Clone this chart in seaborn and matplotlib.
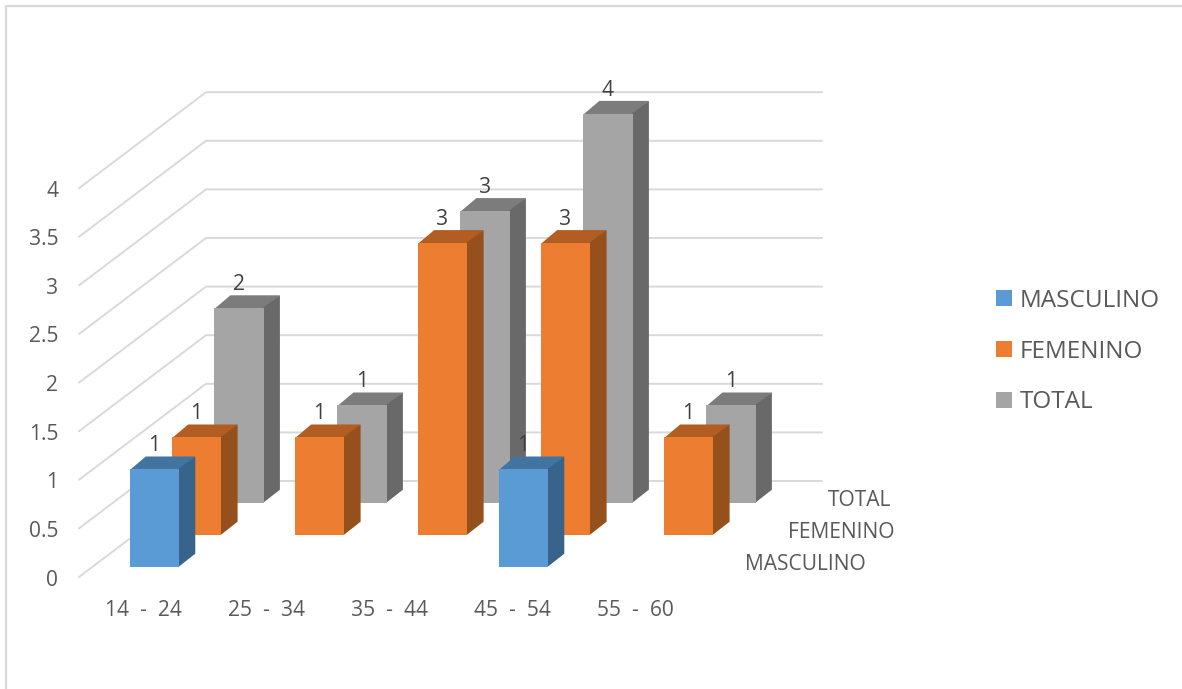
import matplotlib
matplotlib.use("Agg")
import matplotlib.pyplot as plt
from matplotlib.lines import Line2D
from matplotlib.patches import Patch, Polygon
import numpy as np
import seaborn as sns

# Survey counts per age group
age_groups = ["14  -  24", "25  -  34", "35  -  44", "45  -  54", "55  -  60"]
masculino = [1, 0, 0, 1, 0]
femenino = [1, 1, 3, 3, 1]
total = [2, 1, 3, 4, 1]
series_names = ["MASCULINO", "FEMENINO", "TOTAL"]
value_ticks = [0, 0.5, 1, 1.5, 2, 2.5, 3, 3.5, 4]
value_tick_labels = ["0", "0.5", "1", "1.5", "2", "2.5", "3", "3.5", "4"]

# Face colours per series: front, top, side
front_colors = ["#5B9BD5", "#ED7D31", "#A5A5A5"]
top_colors = ["#4174A1", "#B25D21", "#7C7C7C"]
side_colors = ["#38638B", "#95501C", "#696969"]

# Oblique projection, in pixels of the 1182x689 canvas
W, H = 1182, 689
PX_X = 123.0           # pixels per category
PX_Y = 97.2            # pixels per unit of value
ORIGIN_X, ORIGIN_Y = 154.25, 566.5
BAR_W = 49.5 / PX_X
ROW_DX, ROW_DY = 42.3 / PX_X, 32.0 / PX_Y     # shift from one series row to the next
BAR_DX, BAR_DY = 16.3 / PX_X, 12.8 / PX_Y     # depth of a bar
TUCK_X, TUCK_Y = 1.0 / PX_X, 1.0 / PX_Y       # faces run slightly under the front to avoid seams

sns.set_theme(style="white")
plt.rcParams["font.family"] = ["Open Sans", "DejaVu Sans"]
TEXT_SIZE = 15.1
LEGEND_SIZE = 17.5

fig = plt.figure(figsize=(W / 100, H / 100), dpi=100, facecolor="white")
ax = fig.add_axes([0, 0, 1, 1])


def px_x(p):
    return (p - ORIGIN_X) / PX_X


def px_y(p):
    return (ORIGIN_Y - p) / PX_Y


# Side and back walls: gridlines only
wall_left_x, wall_back_x, wall_right_x = px_x(79), px_x(206), px_x(822)
wall_left_y, wall_back_y = px_y(577), px_y(481)
for v in value_ticks:
    ax.plot([wall_left_x, wall_back_x, wall_right_x],
            [v + wall_left_y, v + wall_back_y, v + wall_back_y],
            color="#D9D9D9", lw=1.4, zorder=1, solid_joinstyle="miter")

# Rows are drawn back to front so that nearer bars hide farther ones
positions = np.arange(len(age_groups), dtype=float)
rows = [masculino, femenino, total]
for row in [2, 1, 0]:
    values = np.array(rows[row], dtype=float)
    xs = positions + row * ROW_DX
    base = row * ROW_DY
    z = 10 + (2 - row) * 2
    for x, v in zip(xs, values):
        if v == 0:
            continue
        l, r = x - BAR_W / 2, x + BAR_W / 2
        t = base + v
        ax.add_patch(Polygon([(l, t - TUCK_Y), (r, t - TUCK_Y), (r + BAR_DX, t + BAR_DY), (l + BAR_DX, t + BAR_DY)],
                             closed=True, fc=top_colors[row], ec="none", zorder=z))
        ax.add_patch(Polygon([(r - TUCK_X, base), (r, base), (r + BAR_DX, base + BAR_DY),
                              (r + BAR_DX, t + BAR_DY), (r - TUCK_X, t)],
                             closed=True, fc=side_colors[row], ec="none", zorder=z + 0.2))
        ax.text(x, t + 23.5 / PX_Y, f"{int(v)}", ha="center", va="center",
                fontsize=TEXT_SIZE, color="#404040", zorder=30)
    sns.barplot(x=xs, y=values, bottom=base, width=BAR_W, native_scale=True,
                color=front_colors[row], saturation=1, errorbar=None,
                linewidth=0, ax=ax, zorder=z + 0.5)

# Value axis labels, at the front edge of the side wall
for v, label in zip(value_ticks, value_tick_labels):
    ax.text(px_x(58.5), v + px_y(580), label, ha="right", va="center",
            fontsize=TEXT_SIZE, color="#595959")

# Category labels
for p, label in zip(positions, age_groups):
    ax.text(p - 11 / PX_X, px_y(610.5), label, ha="center", va="center",
            fontsize=TEXT_SIZE, color="#595959")

# Series labels along the depth axis
depth_label_pos = [(866, 564), (894, 532), (891, 500)]
for name, (px, py) in zip(series_names, depth_label_pos):
    ax.text(px_x(px), px_y(py), name, ha="right", va="center",
            fontsize=TEXT_SIZE, color="#595959")

# Legend
handles = [Patch(facecolor=c, edgecolor="none", label=n) for c, n in zip(front_colors, series_names)]
ax.legend(handles=handles, loc="center left", bbox_to_anchor=(996 / W, 1 - 351.5 / H),
          bbox_transform=fig.transFigure, frameon=False, prop={"size": LEGEND_SIZE},
          labelcolor="#595959", handlelength=0.64, handleheight=0.64,
          handletextpad=0.33, labelspacing=1.10, borderpad=0, borderaxespad=0)

ax.set_xlim(px_x(0), px_x(W))
ax.set_ylim(px_y(H), px_y(0))
ax.set_axis_off()

# Chart area border along the top and left
fig.add_artist(Line2D([6 / W, 6 / W], [0, 1 - 5.5 / H], color="#D9D9D9", lw=1.6))
fig.add_artist(Line2D([6 / W, 1], [1 - 5.5 / H, 1 - 5.5 / H], color="#D9D9D9", lw=1.6))

fig.savefig("out.png", dpi=100)
